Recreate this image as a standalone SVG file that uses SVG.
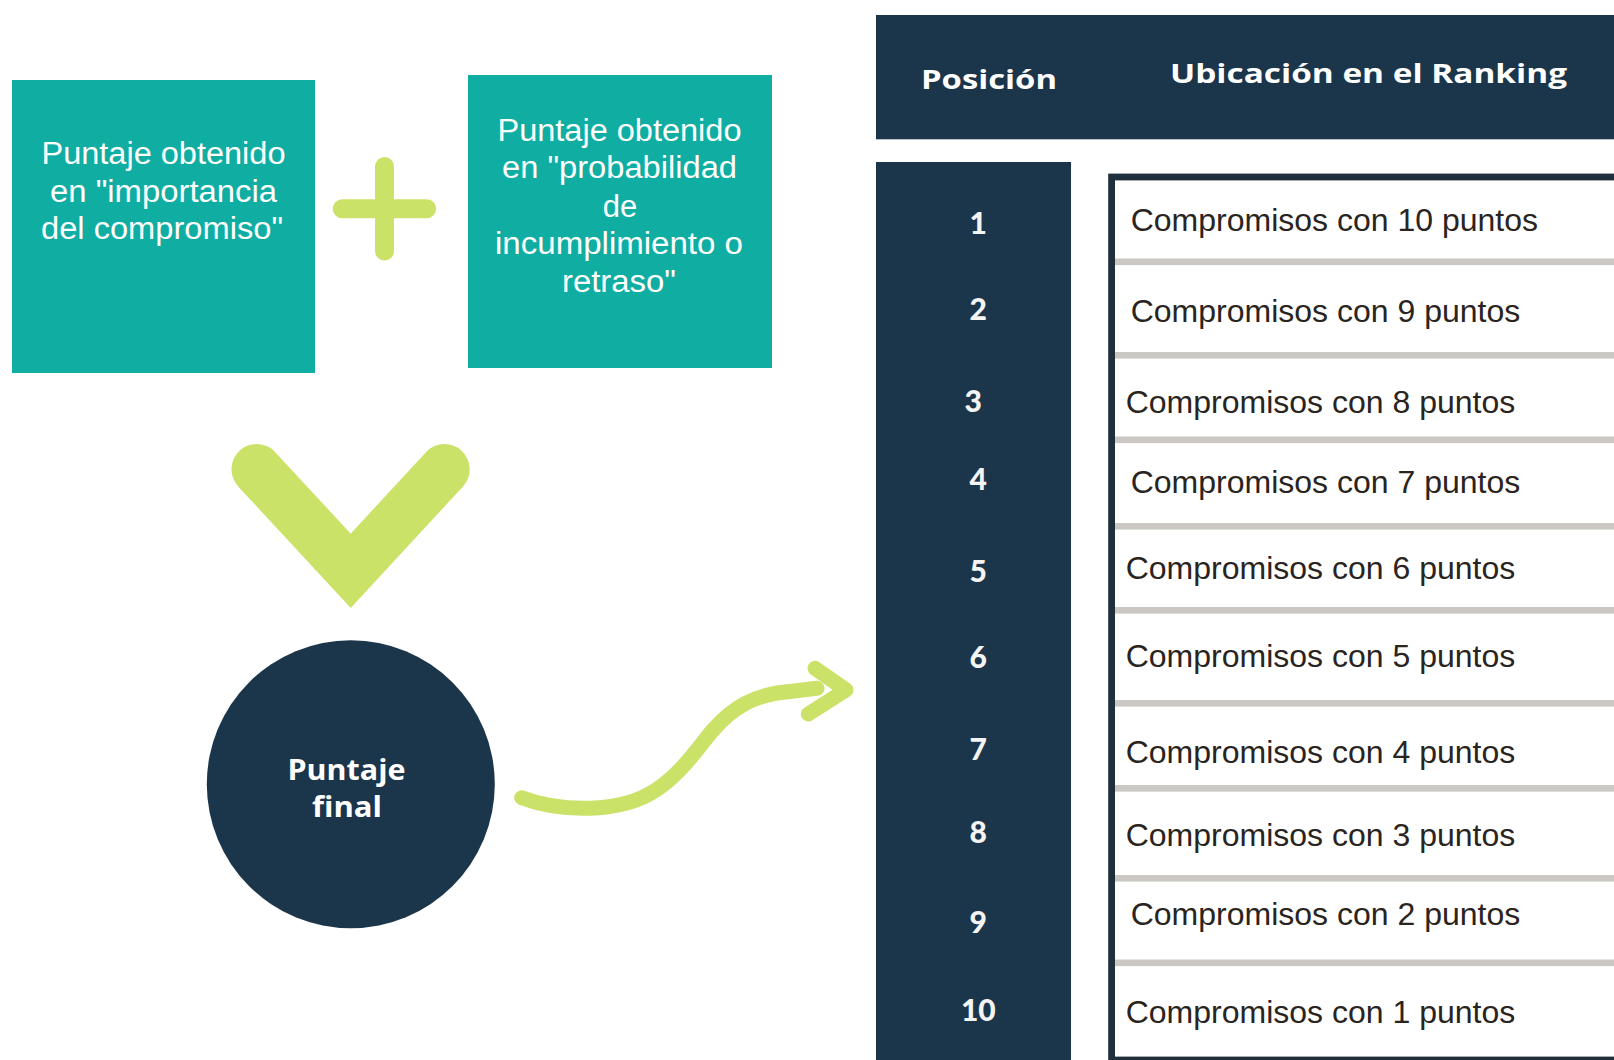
<svg xmlns="http://www.w3.org/2000/svg" width="1614" height="1060" viewBox="0 0 1614 1060">
  <style>
    .teal { fill: #0fada2; }
    .navy { fill: #1b354a; }
    .lime { fill: none; stroke: #cbe268; stroke-linecap: round; stroke-linejoin: round; }
    .boxtxt { font-family: "Liberation Sans", Arial, sans-serif; font-size: 31px; fill: #ffffff; text-anchor: middle; }
    .hdr { font-family: "Open Sans", "Liberation Sans", sans-serif; font-weight: 700; font-size: 27px; fill: #ffffff; }
    .num { font-family: Lato, "Liberation Sans", sans-serif; font-weight: 900; font-size: 30px; fill: #f4f4f4; text-anchor: middle; }
    .row { font-family: "Liberation Sans", Arial, sans-serif; font-size: 32px; fill: #2a2420; }
    .sep { fill: #cbc7c2; }
    .circtxt { font-family: "Open Sans", "Liberation Sans", sans-serif; font-weight: 700; font-size: 28px; fill: #ffffff; text-anchor: middle; }
  </style>
  <rect width="1614" height="1060" fill="#ffffff"/>

  <g id="box-importancia">
    <rect class="teal" x="12" y="80" width="303" height="293"/>
    <text class="boxtxt" x="163.5" y="164" textLength="244" lengthAdjust="spacingAndGlyphs">Puntaje obtenido</text>
    <text class="boxtxt" x="163.5" y="201.7" textLength="227" lengthAdjust="spacingAndGlyphs">en "importancia</text>
    <text class="boxtxt" x="162" y="239.3" textLength="242" lengthAdjust="spacingAndGlyphs">del compromiso"</text>
  </g>

  <g id="plus">
    <line class="lime" x1="384.5" y1="166.5" x2="384.5" y2="251" stroke-width="19"/>
    <line class="lime" x1="342.2" y1="208.7" x2="426.7" y2="208.7" stroke-width="19"/>
  </g>

  <g id="box-probabilidad">
    <rect class="teal" x="468" y="75" width="304" height="293"/>
    <text class="boxtxt" x="619.5" y="140.7" textLength="244" lengthAdjust="spacingAndGlyphs">Puntaje obtenido</text>
    <text class="boxtxt" x="619.5" y="178.3" textLength="235" lengthAdjust="spacingAndGlyphs">en "probabilidad</text>
    <text class="boxtxt" x="620" y="216.7">de</text>
    <text class="boxtxt" x="619" y="254.3" textLength="248" lengthAdjust="spacingAndGlyphs">incumplimiento o</text>
    <text class="boxtxt" x="619" y="291.7" textLength="114" lengthAdjust="spacingAndGlyphs">retraso"</text>
  </g>

  <g id="chevron">
    <path d="M256.7,469.3 L350.7,570.8 L444.5,469.3" fill="none" stroke="#cbe268" stroke-width="50.5" stroke-linecap="round" stroke-linejoin="miter" stroke-miterlimit="10"/>
  </g>

  <g id="puntaje-final">
    <circle class="navy" cx="350.8" cy="784.2" r="144"/>
    <text class="circtxt" x="346.5" y="780" textLength="118" lengthAdjust="spacingAndGlyphs">Puntaje</text>
    <text class="circtxt" x="347" y="817" textLength="70" lengthAdjust="spacingAndGlyphs">final</text>
  </g>

  <g id="connectors">
    <path class="lime" stroke-width="15" d="M521.7,797.7 C560,812 620,814 656,790 C682,773 700,745 713,730 C735,705 755,697 777,693 L817,688.3"/>
    <path class="lime" stroke-width="15" d="M815,668.3 L846,690 L808.3,714"/>
  </g>

  <g id="table-header">
    <rect class="navy" x="876" y="15" width="738" height="124.3"/>
    <text class="hdr" x="921" y="89" textLength="136" lengthAdjust="spacingAndGlyphs">Posición</text>
    <text class="hdr" x="1170" y="83.3" textLength="397" lengthAdjust="spacingAndGlyphs">Ubicación en el Ranking</text>
  </g>

  <g id="position-column">
    <rect class="navy" x="876" y="162" width="195" height="898"/>
    <text class="num" x="978.3" y="234">1</text>
    <text class="num" x="978.3" y="320">2</text>
    <text class="num" x="973.3" y="411.5">3</text>
    <text class="num" x="978.3" y="490">4</text>
    <text class="num" x="978.3" y="581.5">5</text>
    <text class="num" x="978.3" y="667.5">6</text>
    <text class="num" x="978.3" y="760">7</text>
    <text class="num" x="978.3" y="843">8</text>
    <text class="num" x="978.3" y="932.5">9</text>
    <text class="num" x="978.3" y="1021">10</text>
  </g>

  <g id="ranking-table">
    <rect x="1111.6" y="177" width="610" height="883" fill="#ffffff" stroke="#1f2f3c" stroke-width="6.8"/>
    <rect class="sep" x="1115" y="258.5" width="499" height="6.6"/>
    <rect class="sep" x="1115" y="352" width="499" height="6.6"/>
    <rect class="sep" x="1115" y="436.5" width="499" height="6.6"/>
    <rect class="sep" x="1115" y="523" width="499" height="6.6"/>
    <rect class="sep" x="1115" y="607" width="499" height="6.6"/>
    <rect class="sep" x="1115" y="700" width="499" height="6.6"/>
    <rect class="sep" x="1115" y="785" width="499" height="6.6"/>
    <rect class="sep" x="1115" y="875" width="499" height="6.6"/>
    <rect class="sep" x="1115" y="959.5" width="499" height="6.6"/>
    <text class="row" x="1130.7" y="230.7">Compromisos con 10 puntos</text>
    <text class="row" x="1130.7" y="322.3">Compromisos con 9 puntos</text>
    <text class="row" x="1125.7" y="413.3">Compromisos con 8 puntos</text>
    <text class="row" x="1130.7" y="492.7">Compromisos con 7 puntos</text>
    <text class="row" x="1125.7" y="579.3">Compromisos con 6 puntos</text>
    <text class="row" x="1125.7" y="666.7">Compromisos con 5 puntos</text>
    <text class="row" x="1125.7" y="762.7">Compromisos con 4 puntos</text>
    <text class="row" x="1125.7" y="846">Compromisos con 3 puntos</text>
    <text class="row" x="1130.7" y="925">Compromisos con 2 puntos</text>
    <text class="row" x="1125.7" y="1023.3">Compromisos con 1 puntos</text>
  </g>
</svg>
